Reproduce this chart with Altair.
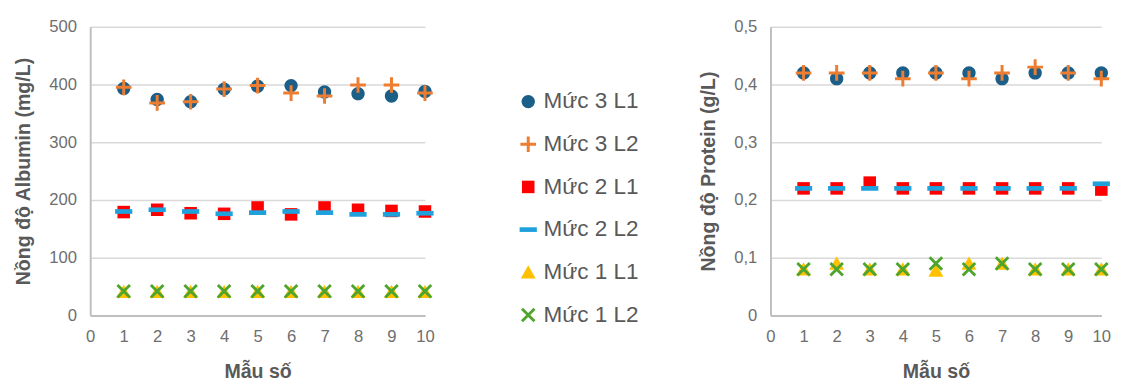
import altair as alt
import pandas as pd

samples = [1, 2, 3, 4, 5, 6, 7, 8, 9, 10]
series = ["Mức 3 L1", "Mức 3 L2", "Mức 2 L1", "Mức 2 L2", "Mức 1 L1", "Mức 1 L2"]

alb_m3_l1 = [393, 374, 370, 392, 397, 398, 387, 384, 380, 388]
alb_m3_l2 = [395, 368, 370, 392, 398, 385, 380, 399, 399, 385]
alb_m2_l1 = [179, 183, 177, 176, 187, 175, 187, 183, 181, 180]
alb_m2_l2 = [180, 183, 180, 176, 178, 180, 178, 175, 175, 177]
alb_m1_l1 = [41, 41, 41, 41, 41, 41, 41, 41, 41, 41]
alb_m1_l2 = [42, 42, 42, 42, 42, 42, 42, 42, 42, 42]

pro_m3_l1 = [0.42, 0.41, 0.42, 0.42, 0.42, 0.42, 0.41, 0.42, 0.42, 0.42]
pro_m3_l2 = [0.42, 0.42, 0.42, 0.41, 0.42, 0.41, 0.42, 0.43, 0.42, 0.41]
pro_m2_l1 = [0.22, 0.22, 0.23, 0.22, 0.22, 0.22, 0.22, 0.22, 0.22, 0.218]
pro_m2_l2 = [0.22, 0.22, 0.22, 0.22, 0.22, 0.22, 0.22, 0.22, 0.22, 0.228]
pro_m1_l1 = [0.08, 0.09, 0.08, 0.08, 0.078, 0.09, 0.09, 0.08, 0.08, 0.08]
pro_m1_l2 = [0.08, 0.08, 0.08, 0.08, 0.09, 0.08, 0.09, 0.08, 0.08, 0.08]

colors = ["#1B5E87", "#ED7D31", "#FF0000", "#1FA2DC", "#FFC000", "#4EA52E"]
shapes = [
    "M0.85,0A0.85,0.85 0 1,1 -0.85,0A0.85,0.85 0 1,1 0.85,0Z",
    "M-1,-0.19H1V0.19H-1Z M-0.19,-1H0.19V1H-0.19Z",
    "M-0.8,-0.8H0.8V0.8H-0.8Z",
    "M-1.1,-0.3H1.1V0.3H-1.1Z",
    "M0,-0.9L0.95,0.8L-0.95,0.8Z",
    "M-0.93,-0.67L-0.67,-0.93L0.93,0.67L0.67,0.93Z M0.67,-0.93L0.93,-0.67L-0.67,0.93L-0.93,0.67Z",
]


def long_df(cols):
    rows = []
    for name, vals in zip(series, cols):
        for s, v in zip(samples, vals):
            rows.append({"sample": s, "series": name, "value": v})
    return pd.DataFrame(rows)


alb = long_df([alb_m3_l1, alb_m3_l2, alb_m2_l1, alb_m2_l2, alb_m1_l1, alb_m1_l2])
pro = long_df([pro_m3_l1, pro_m3_l2, pro_m2_l1, pro_m2_l2, pro_m1_l1, pro_m1_l2])

FONT = "Liberation Sans"
GRAY = "#595959"
LGRAY = "#6E6E6E"

legend = alt.Legend(
    title=None,
    orient="none",
    legendX=436,
    legendY=65,
    labelFontSize=23,
    labelColor=GRAY,
    labelFont=FONT,
    symbolSize=256,
    rowPadding=19.6,
    labelOffset=4,
    symbolStrokeWidth=0,
)

color = alt.Color("series:N", scale=alt.Scale(domain=series, range=colors), legend=legend)
shape = alt.Shape("series:N", scale=alt.Scale(domain=series, range=shapes), legend=legend)


def xaxis():
    return alt.Axis(
        values=list(range(0, 11)),
        grid=False,
        ticks=False,
        labelFont=FONT,
        labelFontSize=17,
        labelColor=LGRAY,
        labelPadding=14,
        labelFlush=False,
        title="Mẫu số",
        titleFont=FONT,
        titleFontSize=20,
        titleFontWeight="bold",
        titleColor=GRAY,
        titlePadding=17,
        domainColor="#BFBFBF",
        domainWidth=2,
    )


def panel(df, ytitle, ydomain, yvalues, label_expr, w):
    yaxis = alt.Axis(
        values=yvalues,
        ticks=False,
        labelFont=FONT,
        labelFontSize=17,
        labelColor=LGRAY,
        labelPadding=14,
        title=ytitle,
        titleFont=FONT,
        titleFontSize=20,
        titleFontWeight="bold",
        titleColor=GRAY,
        titlePadding=16,
        labelExpr=label_expr,
        domainColor="#BFBFBF",
        domainWidth=2,
        gridColor="#D9D9D9",
        gridWidth=1.5,
    )
    return (
        alt.Chart(df)
        .mark_point(filled=True, opacity=1, size=256)
        .encode(
            x=alt.X("sample:Q", scale=alt.Scale(domain=[0, 10], nice=False), axis=xaxis()),
            y=alt.Y("value:Q", scale=alt.Scale(domain=ydomain, nice=False), axis=yaxis),
            color=color,
            shape=shape,
        )
        .properties(width=w, height=295)
    )


left = panel(alb, "Nồng độ Albumin (mg/L)", [0, 500], [0, 100, 200, 300, 400, 500], "datum.label", 342)
right = panel(
    pro,
    "Nồng độ Protein (g/L)",
    [0, 0.5],
    [0, 0.1, 0.2, 0.3, 0.4, 0.5],
    "datum.value == 0 ? '0' : replace(format(datum.value, '.1f'), '.', ',')",
    338,
)

chart = (
    alt.hconcat(left, right, spacing=269)
    .properties(padding={"left": 5, "top": 6, "right": 5, "bottom": 2}, background="white")
    .configure_view(stroke=None)
)

chart.save("out.html", embed_options={"renderer": "svg", "actions": False})
